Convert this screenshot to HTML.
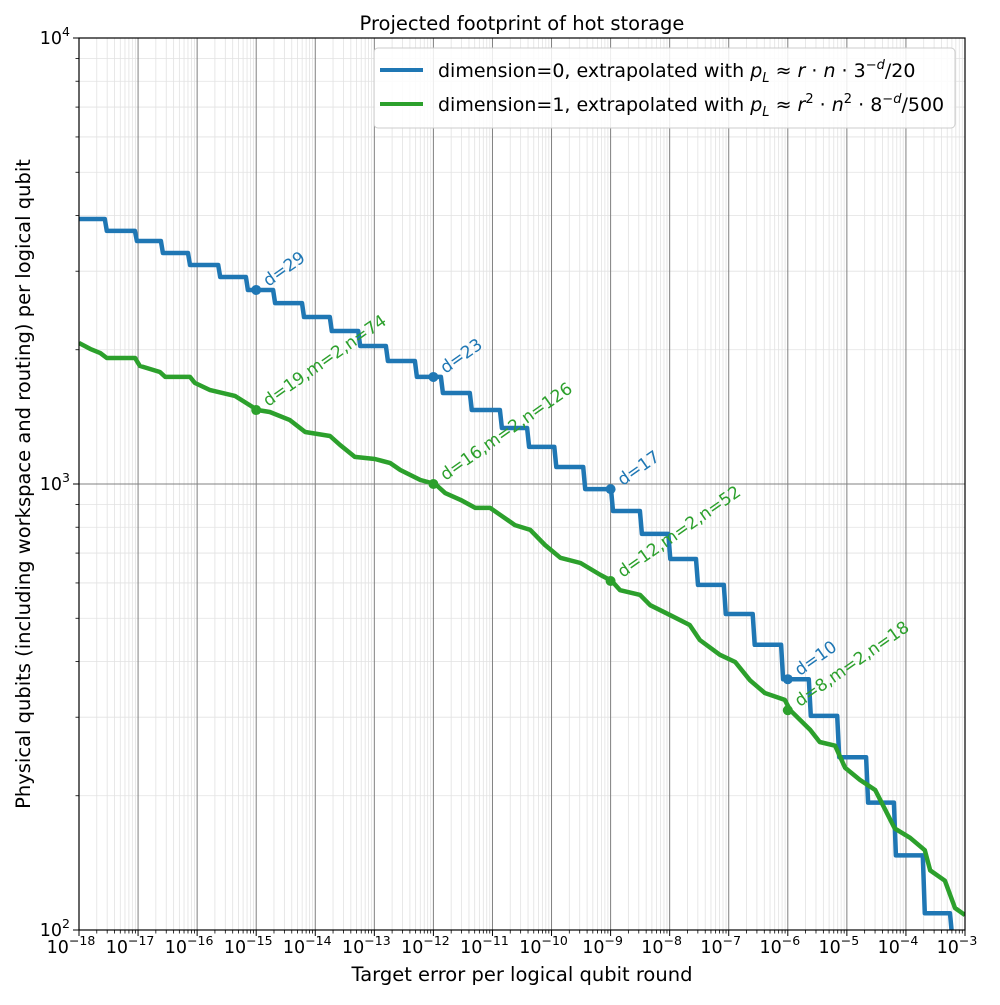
<!DOCTYPE html>
<html><head><meta charset="utf-8"><style>
body{margin:0;background:#fff;}
svg text{font-family:"DejaVu Sans","Liberation Sans",sans-serif;}
</style></head><body>
<svg id="chart" width="1000" height="1000" viewBox="0 0 1000 1000" xmlns="http://www.w3.org/2000/svg">
<rect width="1000" height="1000" fill="#fff"/>
<g id="grid"></g>
<g id="series"></g>
<rect x="79" y="38" width="886" height="892" fill="none" stroke="#000" stroke-width="1.2"/>
<g id="ticks"></g>
<text x="522" y="30" font-size="19.5" text-anchor="middle">Projected footprint of hot storage</text>
<text x="522" y="981" font-size="19.5" text-anchor="middle">Target error per logical qubit round</text>
<text x="30" y="484" font-size="19.5" text-anchor="middle" transform="rotate(-90 30 484)">Physical qubits (including workspace and routing) per logical qubit</text>
<g>
<rect x="374" y="48" width="581" height="80" rx="4" fill="#fff" fill-opacity="0.85" stroke="#ccc"/>
<line x1="380" y1="70" x2="423" y2="70" stroke="#1f77b4" stroke-width="4"/>
<text x="438" y="77" font-size="19">dimension=0, extrapolated with <tspan font-style="italic">p</tspan><tspan font-size="13" dy="5" font-style="italic">L</tspan><tspan dy="-5"> ≈ </tspan><tspan font-style="italic">r</tspan> · <tspan font-style="italic">n</tspan> · 3<tspan font-size="13" dy="-8">−<tspan font-style="italic">d</tspan></tspan><tspan dy="8">/20</tspan></text>
<line x1="380" y1="104" x2="423" y2="104" stroke="#2ca02c" stroke-width="4"/>
<text x="438" y="111" font-size="19">dimension=1, extrapolated with <tspan font-style="italic">p</tspan><tspan font-size="13" dy="5" font-style="italic">L</tspan><tspan dy="-5"> ≈ </tspan><tspan font-style="italic">r</tspan><tspan font-size="13" dy="-8">2</tspan><tspan dy="8"> · </tspan><tspan font-style="italic">n</tspan><tspan font-size="13" dy="-8">2</tspan><tspan dy="8"> · 8</tspan><tspan font-size="13" dy="-8">−<tspan font-style="italic">d</tspan></tspan><tspan dy="8">/500</tspan></text>
</g>
</svg>
<script>
// blue step function: breakpoints (log10 error) and qubit counts
const blueBreaks=[-18,-17.53,-17.02,-16.58,-16.12,-15.61,-15.14,-14.68,-14.19,-13.72,-13.24,-12.77,-12.28,-11.84,-11.35,-10.84,-10.38,-9.92,-9.43,-8.96,-8.47,-7.99,-7.52,-7.05,-6.56,-6.08,-5.61,-5.13,-4.64,-4.17,-3.68,-3.22];
const blueQubits=[3927,3693,3506,3296,3098,2912,2723,2545,2368,2203,2039,1887,1738,1600,1465,1335,1211,1092,974,870,773,679,594,511,436,365,302,244,193,147,109];
const greenExp=[-18,-17.81,-17.64,-17.53,-17.05,-16.97,-16.63,-16.54,-16.12,-16.04,-15.78,-15.36,-14.98,-14.77,-14.43,-14.17,-13.75,-13.58,-13.33,-12.99,-12.73,-12.56,-12.22,-11.97,-11.8,-11.54,-11.29,-11.04,-10.87,-10.62,-10.36,-10.11,-9.85,-9.51,-9.17,-8.98,-8.84,-8.5,-8.33,-7.99,-7.66,-7.49,-7.15,-6.89,-6.64,-6.39,-6.05,-5.96,-5.62,-5.46,-5.2,-5.03,-4.78,-4.52,-4.35,-4.19,-3.93,-3.68,-3.59,-3.34,-3.17,-3];
const greenQubits=[2071,2009,1966,1917,1917,1840,1783,1738,1738,1685,1624,1576,1465,1450,1391,1308,1281,1223,1150,1138,1114,1075,1021,1000,954,921,884,884,853,809,789,730,683,665,625,606,578,564,535,508,483,447,414,399,363,340,328,311,281,264,259,231,217,206,186,169,161,151,136,129,112,108];
const blueMarkExp=[-15,-12,-9,-6];
const blueMarkQ=[2723,1738,974,365];
const blueLabels=["d=29","d=23","d=17","d=10"];
const greenMarkExp=[-15,-12,-9,-6];
const greenMarkQ=[1465,1000,606,311];
const greenLabels=["d=19,m=2,n=74","d=16,m=2,n=126","d=12,m=2,n=52","d=8,m=2,n=18"];
const xTickExps=[-18,-17,-16,-15,-14,-13,-12,-11,-10,-9,-8,-7,-6,-5,-4,-3];
const yTickExps=[2,3,4];

const NS="http://www.w3.org/2000/svg";
const X0=79,X1=965,Y0=930,Y1=38;
const xs=e=>X0+(e+18)/15*(X1-X0);
const ys=v=>Y0-(Math.log10(v)-2)/2*(Y0-Y1);
function mk(tag,attrs,parent){const el=document.createElementNS(NS,tag);for(const k in attrs)el.setAttribute(k,attrs[k]);parent.appendChild(el);return el;}
const grid=document.getElementById('grid'),ticks=document.getElementById('ticks'),series=document.getElementById('series');
for(let e=-18;e<-3;e++){for(let m=2;m<10;m++){const x=xs(e+Math.log10(m));
const l=mk('line',{x1:x,x2:x,y1:Y1,y2:Y0,stroke:'#e2e2e2','stroke-width':0.8},grid);


const t=mk('line',{x1:x,x2:x,y1:Y0,y2:Y0+3.5,stroke:'#000','stroke-width':0.8},ticks);

}}
for(let d=2;d<4;d++){for(let m=2;m<10;m++){const y=ys(m*Math.pow(10,d));
const l=mk('line',{x1:X0,x2:X1,y1:y,y2:y,stroke:'#e2e2e2','stroke-width':0.8},grid);


const t=mk('line',{x1:X0-3.5,x2:X0,y1:y,y2:y,stroke:'#000','stroke-width':0.8},ticks);

}}
xTickExps.forEach(e=>{const x=xs(e);
const l=mk('line',{x1:x,x2:x,y1:Y1,y2:Y0,stroke:'#808080','stroke-width':1},grid);


const t=mk('line',{x1:x,x2:x,y1:Y0,y2:Y0+6,stroke:'#000','stroke-width':1},ticks);


const tx=mk('text',{x:x-8,y:953,'font-size':17.5,'text-anchor':'middle'},ticks);
tx.innerHTML='10<tspan font-size="12.5" dy="-8">−'+(-e)+'</tspan>';

});
yTickExps.forEach(e=>{const y=ys(Math.pow(10,e));
const l=mk('line',{x1:X0,x2:X1,y1:y,y2:y,stroke:'#808080','stroke-width':1},grid);


const t=mk('line',{x1:X0-6,x2:X0,y1:y,y2:y,stroke:'#000','stroke-width':1},ticks);


const tx=mk('text',{x:70,y:y+6,'font-size':17.5,'text-anchor':'end'},ticks);
tx.innerHTML='10<tspan font-size="12.5" dy="-8">'+e+'</tspan>';

});
let bp='';
for(let i=0;i<blueQubits.length;i++){const xa=xs(blueBreaks[i]),xb=xs(blueBreaks[i+1]),y=ys(blueQubits[i]);
bp+=(i===0?'M':'L')+xa.toFixed(1)+','+y.toFixed(1)+' L'+(xb-2).toFixed(1)+','+y.toFixed(1)+' ';}
bp+='L'+(xs(blueBreaks[blueBreaks.length-1])).toFixed(1)+','+(Y0+5);
const cp=mk('clipPath',{id:'clip'},document.getElementById('chart'));mk('rect',{x:X0,y:Y1,width:X1-X0,height:Y0-Y1},cp);
const b=mk('path',{d:bp,fill:'none',stroke:'#1f77b4','stroke-width':4.5,'stroke-linejoin':'round','clip-path':'url(#clip)'},series);


let gp=greenExp.map((e,i)=>(i?'L':'M')+xs(e).toFixed(1)+','+ys(greenQubits[i]).toFixed(1)).join(' ');
const g=mk('path',{d:gp,fill:'none',stroke:'#2ca02c','stroke-width':4.5,'stroke-linejoin':'round','clip-path':'url(#clip)'},series);


function marks(ex,q,labs,col,nm){ex.forEach((e,i)=>{const x=xs(e),y=ys(q[i]);
const c=mk('circle',{cx:x,cy:y,r:5,fill:col},series);


const t=mk('text',{x:x+12,y:y-3,'font-size':17,fill:col,transform:'rotate(-35 '+(x+12)+' '+(y-3)+')'},series);
t.textContent=labs[i];

});}
marks(blueMarkExp,blueMarkQ,blueLabels,'#1f77b4','dimension-0');
marks(greenMarkExp,greenMarkQ,greenLabels,'#2ca02c','dimension-1');
</script>
</body></html>
